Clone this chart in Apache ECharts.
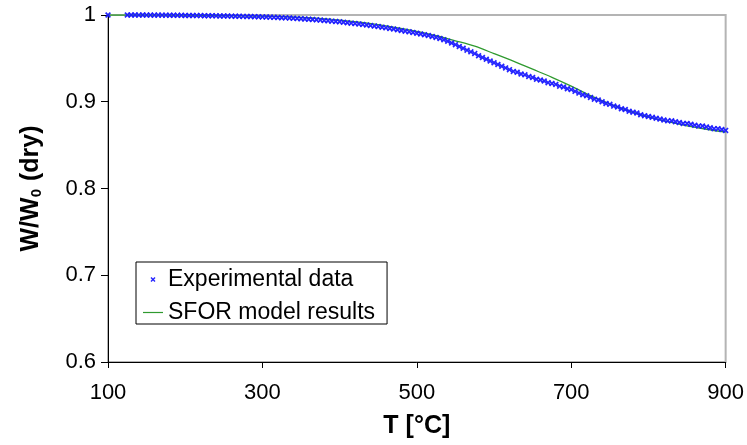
<!DOCTYPE html>
<html>
<head>
<meta charset="utf-8">
<script src="https://cdn.jsdelivr.net/npm/echarts@6/dist/echarts.min.js"></script>
<style>
html,body{margin:0;padding:0;background:#fff;}
#chart{width:747px;height:445px;}
</style>
</head>
<body>
<div id="chart"></div>
<script>
// Axis ticks
var xTicks = [100, 300, 500, 700, 900];
var yTicks = [0.6, 0.7, 0.8, 0.9, 1.0];

// Experimental data [T (°C), W/W0]
var expData = [
  [100,1.0000],
  [125,1.0000],[130,1.0000],[135,1.0000],[140,0.9999],[145,1.0000],[150,0.9999],[155,0.9999],[160,0.9998],
  [165,0.9999],[170,0.9998],[175,0.9998],[180,0.9997],[185,0.9997],[190,0.9996],[195,0.9996],[200,0.9995],
  [205,0.9995],[210,0.9994],[215,0.9993],[220,0.9993],[225,0.9992],[230,0.9991],[235,0.9991],[240,0.9990],
  [245,0.9989],[250,0.9988],[255,0.9988],[260,0.9987],[265,0.9986],[270,0.9985],[275,0.9984],[280,0.9983],
  [285,0.9982],[290,0.9981],[295,0.9980],[300,0.9978],[305,0.9977],[310,0.9975],[315,0.9973],[320,0.9971],
  [325,0.9969],[330,0.9967],[335,0.9965],[340,0.9962],[345,0.9960],[350,0.9957],[355,0.9954],[360,0.9951],
  [365,0.9948],[370,0.9944],[375,0.9941],[380,0.9937],[385,0.9933],[390,0.9929],[395,0.9925],[400,0.9921],
  [405,0.9916],[410,0.9911],[415,0.9906],[420,0.9901],[425,0.9896],[430,0.9890],[435,0.9884],[440,0.9878],
  [445,0.9872],[450,0.9866],[455,0.9859],[460,0.9852],[465,0.9845],[470,0.9838],[475,0.9830],[480,0.9822],
  [485,0.9814],[490,0.9806],[495,0.9798],[500,0.9790],[505,0.9781],[510,0.9772],[515,0.9763],[520,0.9753],
  [525,0.9742],[530,0.9729],[535,0.9714],[540,0.9697],[545,0.9678],[550,0.9658],[555,0.9637],[560,0.9616],
  [565,0.9595],[570,0.9575],[575,0.9555],[580,0.9530],[585,0.9510],[590,0.9490],[595,0.9470],[600,0.9450],
  [605,0.9430],[610,0.9410],[615,0.9390],[620,0.9370],[625,0.9350],[630,0.9340],[635,0.9320],[640,0.9310],
  [645,0.9290],[650,0.9280],[655,0.9260],[660,0.9250],[665,0.9240],[670,0.9220],[675,0.9210],[680,0.9200],
  [685,0.9180],[690,0.9170],[695,0.9150],[700,0.9140],[705,0.9120],[710,0.9100],[715,0.9080],[720,0.9070],
  [725,0.9050],[730,0.9030],[735,0.9020],[740,0.9000],[745,0.8980],[750,0.8970],[755,0.8950],[760,0.8940],
  [765,0.8920],[770,0.8910],[775,0.8890],[780,0.8880],[785,0.8870],[790,0.8850],[795,0.8840],[800,0.8830],
  [805,0.8820],[810,0.8810],[815,0.8800],[820,0.8790],[825,0.8780],[830,0.8780],[835,0.8770],[840,0.8760],
  [845,0.8750],[850,0.8750],[855,0.8740],[860,0.8730],[865,0.8720],[870,0.8720],[875,0.8710],[880,0.8700],
  [885,0.8690],[890,0.8690],[895,0.8680],[900,0.8670]
];

// SFOR model results [T (°C), W/W0]
var modelData = [
  [100,1.0000],[150,1.0000],[200,0.9998],[250,0.9993],[300,0.9986],[350,0.9972],[400,0.9942],
  [450,0.9890],[500,0.9812],[525,0.9762],[550,0.9703],[575,0.9640],[600,0.9555],[625,0.9468],
  [650,0.9375],[675,0.9282],[700,0.9180],[725,0.9070],[750,0.8975],[775,0.8893],[800,0.8825],
  [825,0.8770],[850,0.8723],[875,0.8683],[900,0.8650]
];

var seriesNames = ['Experimental data', 'SFOR model results'];
var xMin = xTicks[0], xMax = xTicks[xTicks.length - 1];
var yMin = yTicks[0], yMax = yTicks[yTicks.length - 1];

var xMarker = 'path://M0,2L2,0L5,3L8,0L10,2L7,5L10,8L8,10L5,7L2,10L0,8L3,5Z';
var lineIcon = 'path://M0,0L20,0L20,1.2L0,1.2Z';
var FONT = 'Liberation Sans, Arial, sans-serif';

var chart = echarts.init(document.getElementById('chart'), null, {renderer: 'canvas'});
chart.setOption({
  animation: false,
  backgroundColor: '#ffffff',
  textStyle: {fontFamily: FONT},
  grid: {
    left: 108, top: 15, right: 17, bottom: 83,
    show: true, borderColor: '#b4b4b4', borderWidth: 2, backgroundColor: 'transparent'
  },
  legend: {
    orient: 'vertical',
    left: 136, top: 262,
    data: [{name: seriesNames[0], icon: xMarker}, {name: seriesNames[1], icon: lineIcon}],
    itemWidth: 20, itemHeight: 5, itemGap: 10,
    padding: [6, 12, 0, 7],
    borderColor: '#000', borderWidth: 1, backgroundColor: '#fff',
    textStyle: {fontSize: 23, color: '#000', lineHeight: 22, fontFamily: FONT}
  },
  xAxis: {
    type: 'value', min: xMin, max: xMax, interval: 200,
    name: 'T [°C]', nameLocation: 'middle', nameGap: 52,
    nameTextStyle: {fontSize: 25, fontWeight: 'bold', color: '#000', fontFamily: FONT},
    axisLine: {show: true, onZero: false, lineStyle: {color: '#000', width: 1}},
    axisTick: {show: true, length: 6, lineStyle: {color: '#000'}},
    axisLabel: {fontSize: 22, color: '#000', margin: 20},
    splitLine: {show: false}
  },
  yAxis: {
    type: 'value', min: yMin, max: yMax, interval: 0.1,
    name: '{a|W/W}{s|0}{a| (dry)}', nameLocation: 'middle', nameGap: 64, nameRotate: 90,
    nameTextStyle: {
      color: '#000',
      rich: {
        a: {fontSize: 25, fontWeight: 'bold', color: '#000', fontFamily: FONT},
        s: {fontSize: 15, fontWeight: 'bold', color: '#000', padding: [10, 1, 0, 0], fontFamily: FONT}
      }
    },
    axisLine: {show: true, onZero: false, lineStyle: {color: '#000', width: 1}},
    axisTick: {show: true, length: 7, lineStyle: {color: '#000'}},
    axisLabel: {fontSize: 22, color: '#000', margin: 12},
    splitLine: {show: false}
  },
  series: [
    {
      name: seriesNames[0], type: 'scatter', data: expData,
      symbol: xMarker, symbolSize: 6,
      itemStyle: {color: '#1a1aff', opacity: 0.95},
      z: 3
    },
    {
      name: seriesNames[1], type: 'line', data: modelData,
      smooth: 0.3, showSymbol: false, symbol: 'none',
      lineStyle: {color: '#2f9a2f', width: 1.3},
      itemStyle: {color: '#2f9a2f'},
      z: 2
    }
  ]
});
</script>
</body>
</html>
